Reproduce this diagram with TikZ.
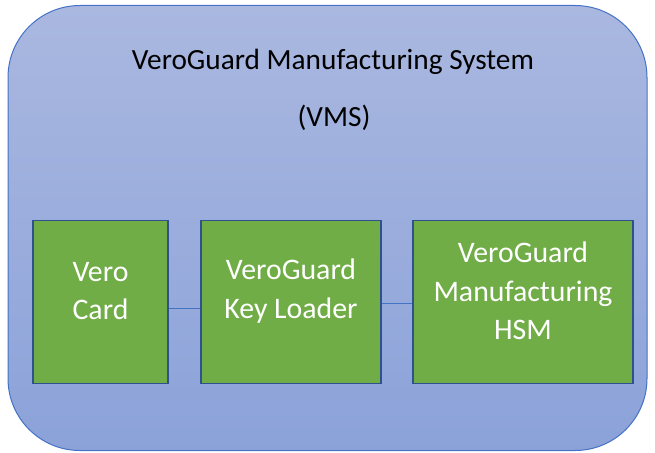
\documentclass[tikz,border=0pt]{standalone}
\usepackage{fontspec}
\setmainfont{Carlito}
\definecolor{outerline}{HTML}{4472C4}
\definecolor{outertop}{HTML}{AAB8E0}
\definecolor{outerbot}{HTML}{8BA2D9}
\definecolor{boxgreen}{HTML}{70AD47}
\definecolor{boxline}{HTML}{2F528F}
\begin{document}
\begin{tikzpicture}[x=1pt,y=-1pt,
  outerbox/.style={draw=outerline, line width=1pt, rounded corners=72pt, top color=outertop, bottom color=outerbot, minimum width=639pt, minimum height=445pt, inner sep=0pt},
  greenbox/.style={draw=boxline, line width=1.6pt, fill=boxgreen, minimum height=163pt, inner sep=0pt},
  boxtext/.style={text=white, align=center, font=\fontsize{29.8}{38.5}\selectfont, inner sep=0pt},
  titletext/.style={text=black, font=\fontsize{29.3}{34}\selectfont, inner sep=0pt},
  link/.style={draw=outerline, line width=1pt}]
\useasboundingbox (0,0) rectangle (655,452);
\node[outerbox] (outer) at (327.5,228) {};
\node[titletext, anchor=base] (title) at (333,69) {VeroGuard Manufacturing System};
\node[titletext, anchor=base] (vms) at (334,126) {(VMS)};
\node[greenbox, minimum width=135pt] (box1) at (100.5,302) {};
\node[greenbox, minimum width=180pt] (box2) at (291,302) {};
\node[greenbox, minimum width=220pt] (box3) at (523,302) {};
\node[boxtext] (t1) at ([yshift=11pt]box1.center) {Vero\\Card};
\node[boxtext] (t2) at ([yshift=11pt]box2.center) {VeroGuard\\Key Loader};
\node[boxtext] (t3) at ([yshift=11pt]box3.center) {VeroGuard\\Manufacturing\\HSM};
\draw[link] ([yshift=-6pt]box1.east) -- ([yshift=-6pt]box2.west);
\draw[link] ([yshift=-1pt]box2.east) -- ([yshift=-1pt]box3.west);
\end{tikzpicture}
\end{document}
